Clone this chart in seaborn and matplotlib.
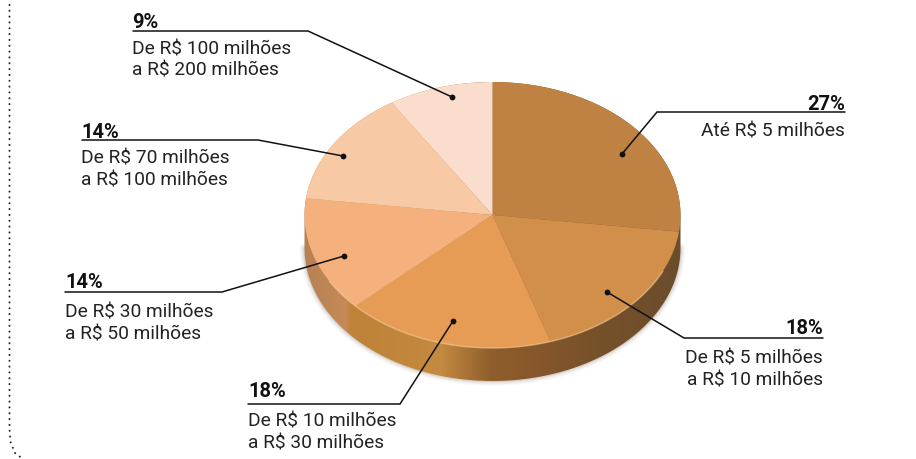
import numpy as np
import matplotlib
matplotlib.use("Agg")
import matplotlib.pyplot as plt
from matplotlib.path import Path
from matplotlib.patches import PathPatch
import seaborn as sns

# Data
shares = [27, 18, 18, 14, 14, 9]
pct_labels = ["27%", "18%", "18%", "14%", "14%", "9%"]
range_labels = [
    "Até R$ 5 milhões",
    "De R$ 5 milhões\na R$ 10 milhões",
    "De R$ 10 milhões\na R$ 30 milhões",
    "De R$ 30 milhões\na R$ 50 milhões",
    "De R$ 70 milhões\na R$ 100 milhões",
    "De R$ 100 milhões\na R$ 200 milhões",
]
slice_colors = ["#BF8242", "#D18F4A", "#E69C55", "#F4B17E", "#F8C9A5", "#FBDDCE"]

# Layout (pixels)
W, H = 916, 460
CX, CY, RX, RY, DEPTH = 492.5, 216.0, 188.0, 133.0, 33.0
callouts = [
    dict(dot=(622, 155), elbow=(657, 113), end=845, ha="right", x=845, py=103, ly=131),
    dict(dot=(607, 293), elbow=(684, 339), end=823, ha="right", x=823, py=327, ly=358),
    dict(dot=(453, 322), elbow=(400, 405), end=248, ha="left", x=248, py=390, ly=421),
    dict(dot=(344, 257), elbow=(222, 293), end=65, ha="left", x=65, py=281, ly=312),
    dict(dot=(343, 157), elbow=(258, 141), end=82, ha="left", x=81, py=131, ly=158),
    dict(dot=(452, 98), elbow=(308, 32), end=133, ha="left", x=132, py=21, ly=48),
]

sns.set_theme(style="white")
plt.rcParams["font.family"] = ["Roboto", "DejaVu Sans"]
palette = sns.color_palette(slice_colors)

fig = plt.figure(figsize=(W / 100, H / 100), dpi=100, facecolor="white")

ax_side = fig.add_axes([0, 0, 1, 1], zorder=1)
ax_side.set_xlim(0, W)
ax_side.set_ylim(H, 0)
ax_side.axis("off")

t1 = np.linspace(0, np.pi, 180)
t2 = np.linspace(np.pi, 2 * np.pi, 180)
xs = np.r_[CX + RX * np.cos(t1), CX + RX * np.cos(t2)]
ys = np.r_[CY + DEPTH + RY * np.sin(t1), CY + RY * np.sin(t2)]
outline = Path(np.c_[xs, ys], closed=False)

for lw, a in [(7, 0.03), (5, 0.05), (3, 0.07), (1.5, 0.1)]:
    ax_side.plot(xs[:180], ys[:180], color="#5a3a20", lw=lw, alpha=a, solid_capstyle="round")

stops_x = [300, 345, 352, 440, 490, 545, 600, 690]
stops_c = np.array([matplotlib.colors.to_rgb(c) for c in
                    ["#B58055", "#C58A55", "#BE8238", "#C48A40", "#8F5E2C", "#85562A", "#75512A", "#6A4C2C"]])
gx = np.arange(W)
grad = np.stack([np.interp(gx, stops_x, stops_c[:, i]) for i in range(3)], axis=1)[None, :, :]
im = ax_side.imshow(grad, extent=(0, W, H, 0), aspect="auto", zorder=2)
clip = PathPatch(outline, transform=ax_side.transData, fc="none", ec="none")
ax_side.add_patch(clip)
im.set_clip_path(clip)
ax_side.set_xlim(0, W)
ax_side.set_ylim(H, 0)

ax_pie = fig.add_axes([0, 0, 1, 1], zorder=2)
ax_pie.patch.set_alpha(0)
ax_pie.pie(shares, colors=palette, startangle=90, counterclock=False,
           wedgeprops=dict(linewidth=0))
ax_pie.set_aspect("auto")
ax_pie.set_xlim(-CX / RX, (W - CX) / RX)
ax_pie.set_ylim(-(H - CY) / RY, CY / RY)
ax_pie.axis("off")

ax = fig.add_axes([0, 0, 1, 1], zorder=3)
ax.patch.set_alpha(0)
ax.set_xlim(0, W)
ax.set_ylim(H, 0)
ax.axis("off")

rim = np.linspace(np.radians(25), np.radians(150), 120)
ax.plot(CX + RX * np.cos(rim), CY + RY * np.sin(rim), color="#F6CFA0", lw=1, alpha=0.6)

for c, pct, rng in zip(callouts, pct_labels, range_labels):
    y_rule = c["elbow"][1]
    ax.plot([c["dot"][0], c["elbow"][0], c["end"]], [c["dot"][1], c["elbow"][1], y_rule],
            color="#111111", lw=1.1, solid_joinstyle="miter")
    ax.plot(*c["dot"], "o", color="#111111", ms=4.2, mew=0)
    ax.text(c["x"], c["py"] + 2, pct, ha=c["ha"], va="center", fontsize=14.5, fontweight="bold", color="#111111")
    ax.text(c["x"], c["ly"] - 8, rng, ha=c["ha"], va="top", fontsize=13.8, color="#222222",
            linespacing=1.28)

ax.plot([9.5, 9.5, 10.5, 15, 23], [0, 430, 443, 454, 460], color="#222222", lw=1.4,
        ls=(0, (0.1, 2.9)), dash_capstyle="round")

fig.savefig("out.png", dpi=100, facecolor="white")
